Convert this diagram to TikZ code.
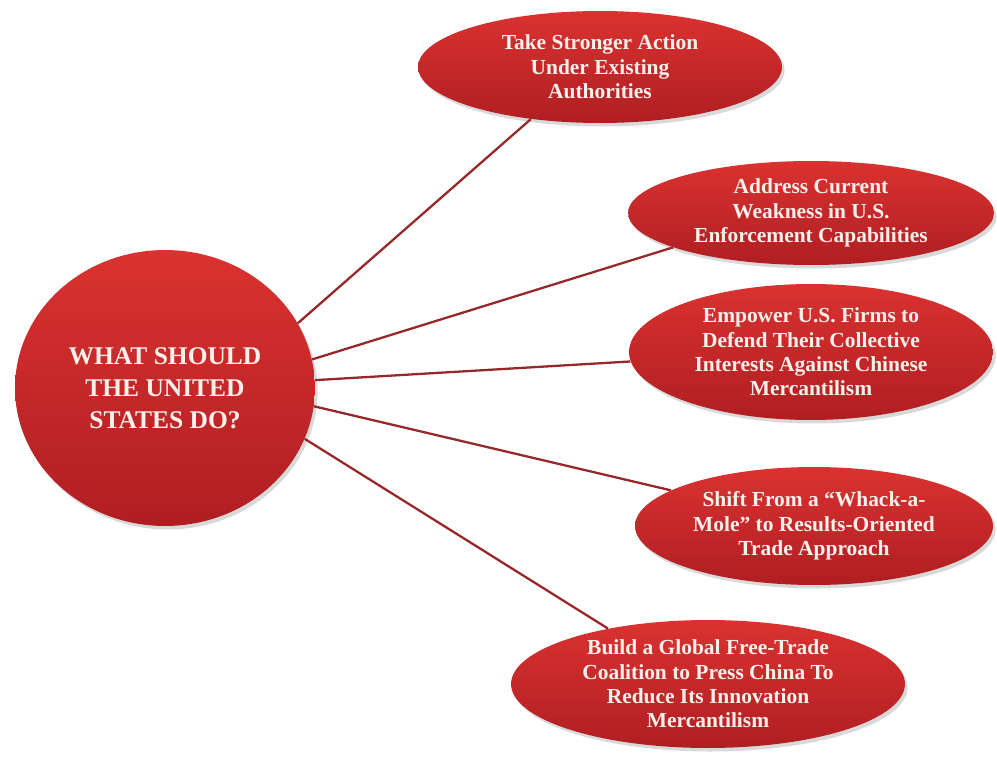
\documentclass[tikz,border=0pt]{standalone}
\usepackage{fontspec}
\setmainfont{Liberation Serif}
\usetikzlibrary{positioning, shapes.geometric, shadows}
\definecolor{bubbleTop}{RGB}{218,50,48}
\definecolor{bubbleBottom}{RGB}{176,30,34}
\definecolor{linkRed}{RGB}{150,40,42}
\definecolor{textWhite}{RGB}{250,240,236}
\tikzset{
    bubble/.style={ellipse, draw=none, top color=bubbleTop, bottom color=bubbleBottom,
      text=textWhite, align=center, inner sep=0pt,
      drop shadow={opacity=0.3, shadow xshift=1.5pt, shadow yshift=-2pt}},
    hub/.style={bubble, font=\fontsize{14.5}{18.2}\selectfont\bfseries},
    goal/.style={bubble, font=\fontsize{12.2}{13.9}\selectfont\bfseries, inner ysep=-0.35cm},
    link/.style={draw=linkRed, line width=1.3pt},
}

\begin{document}
\begin{tikzpicture}[x=0.02cm, y=-0.02cm]
    \useasboundingbox (0,0) rectangle (997,757);

    \node[hub, minimum width=6cm, minimum height=5.52cm] (c0) at (165,388)
      {WHAT SHOULD\\THE UNITED\\STATES DO?};

    \node[goal, minimum width=7.28cm, minimum height=2.24cm] (g1) at (600,67)
      {Take Stronger Action\\Under Existing\\Authorities};
    \node[goal, minimum width=7.32cm, minimum height=2.08cm] (g2) at (811,213)
      {Address Current\\Weakness in U.S.\\Enforcement Capabilities};
    \node[goal, minimum width=7.28cm, minimum height=2.72cm] (g3) at (811,352)
      {Empower U.S.\ Firms to\\Defend Their Collective\\Interests Against Chinese\\Mercantilism};
    \node[goal, minimum width=7.16cm, minimum height=2.36cm] (g4) at (814,526)
      {Shift From a ``Whack-a-\\Mole'' to Results-Oriented\\Trade Approach};
    \node[goal, minimum width=7.88cm, minimum height=2.56cm] (g5) at (708,684)
      {Build a Global Free-Trade\\Coalition to Press China To\\Reduce Its Innovation\\Mercantilism};

    % spokes from the hub out to each goal
    \draw[link] (c0.26.6) -- (g1.217);
    \draw[link] (c0.11.8) -- (g2.194);
    \draw[link] (c0.3) -- (g3.183.5);
    \draw[link] (c0.-7.2) -- (g4.166);
    \draw[link] (c0.-20.4) -- (g5.151);
\end{tikzpicture}
\end{document}
